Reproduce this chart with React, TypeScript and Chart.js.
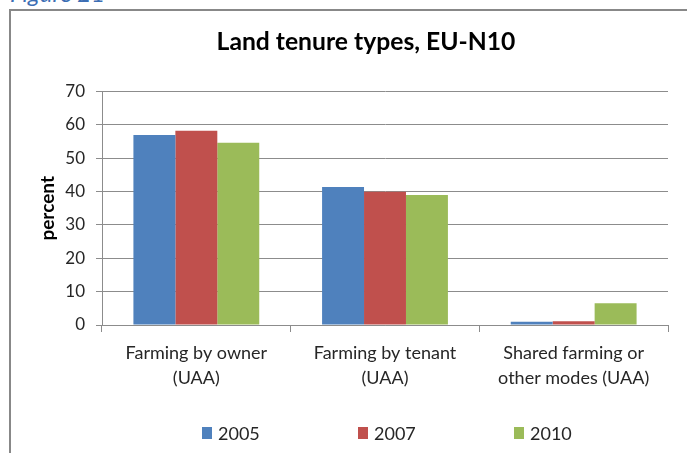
import React, { useEffect, useRef } from "react";
import { Chart, registerables } from "chart.js";

Chart.register(...registerables);

const chartTitle = "Land tenure types, EU-N10";
const figureLabel = "Figure 21";
const yAxisTitle = "percent";
const categories = [
  ["Farming by owner", "(UAA)"],
  ["Farming by tenant", "(UAA)"],
  ["Shared farming or", "other modes (UAA)"],
];
const seriesNames = ["2005", "2007", "2010"];
const values2005 = [57.0, 41.4, 1.0];
const values2007 = [58.3, 40.0, 1.1];
const values2010 = [54.7, 39.0, 6.5];
const seriesColors = ["#4F81BD", "#C0504D", "#9BBB59"];
const yMin = 0;
const yMax = 70;
const yStep = 10;

const FONT = 'Lato, "Open Sans", sans-serif';
const GRID = "#8c8c8c";
const TEXT = "#262626";

export default function App() {
  const canvasRef = useRef<HTMLCanvasElement | null>(null);

  useEffect(() => {
    const canvas = canvasRef.current;
    if (!canvas) return;
    const seriesValues = [values2005, values2007, values2010];
    const chart = new Chart(canvas, {
      type: "bar",
      data: {
        labels: categories,
        datasets: seriesNames.map((name, i) => ({
          label: name,
          data: seriesValues[i],
          backgroundColor: seriesColors[i],
          borderWidth: 0,
          categoryPercentage: 0.667,
          barPercentage: 1.0,
        })),
      },
      options: {
        responsive: false,
        animation: false,
        devicePixelRatio: 1,
        layout: { padding: 0 },
        plugins: {
          legend: { display: false },
          tooltip: { enabled: false },
          title: {
            display: true,
            text: chartTitle,
            color: "#000",
            font: { family: FONT, size: 24.7, weight: "bold" },
            padding: { top: 27, bottom: 35 },
          },
        },
        scales: {
          x: {
            type: "category",
            offset: true,
            grid: {
              display: true,
              offset: true,
              drawOnChartArea: false,
              drawTicks: true,
              tickLength: 7,
              color: GRID,
            },
            border: { display: true, color: GRID },
            ticks: {
              color: TEXT,
              font: { family: FONT, size: 18, lineHeight: 1.38 },
              padding: 9,
              maxRotation: 0,
              autoSkip: false,
            },
            afterFit: (s: any) => {
              s.height = 128;
            },
          },
          y: {
            type: "linear",
            position: "left",
            min: yMin,
            max: yMax,
            ticks: {
              stepSize: yStep,
              color: TEXT,
              padding: 11,
              font: { family: FONT, size: 17 },
            },
            grid: { color: GRID, drawTicks: true, tickLength: 6 },
            border: { display: true, color: GRID },
            title: {
              display: true,
              text: yAxisTitle,
              color: "#000",
              font: { family: FONT, size: 19, weight: "bold" },
              padding: { top: 36, bottom: 0 },
            },
            afterFit: (s: any) => {
              s.width = 102;
            },
          },
          yRight: {
            type: "linear",
            position: "right",
            display: true,
            grid: { display: false, drawTicks: false },
            border: { display: false },
            ticks: { display: false },
            afterFit: (s: any) => {
              s.width = 64;
            },
          },
        },
      },
    });
    return () => chart.destroy();
  }, []);

  return (
    <div
      style={{
        position: "fixed",
        left: 0,
        top: 0,
        width: 687,
        height: 453,
        overflow: "hidden",
        background: "#ffffff",
      }}
    >
      <span
        style={{
          position: "absolute",
          left: 10,
          top: -19,
          fontFamily: FONT,
          fontStyle: "italic",
          fontSize: 24,
          lineHeight: "24px",
          color: "#3C6EB4",
          whiteSpace: "nowrap",
        }}
      >
        {figureLabel}
      </span>
      <div
        style={{
          position: "absolute",
          left: 9,
          top: 9,
          width: 720,
          height: 500,
          borderLeft: "2px solid #888888",
          borderTop: "2px solid #888888",
        }}
      />
      <canvas
        ref={canvasRef}
        width={732}
        height={453}
        style={{ position: "absolute", left: 0, top: 0, width: 732, height: 453 }}
      />
      <div
        style={{
          position: "absolute",
          left: 202,
          top: 422,
          display: "flex",
          fontFamily: FONT,
          fontSize: 18,
          color: TEXT,
        }}
      >
        {seriesNames.map((name, i) => (
          <div
            key={name}
            style={{ width: 156, display: "flex", alignItems: "center", height: 22 }}
          >
            <span
              style={{
                display: "inline-block",
                width: 10,
                height: 12,
                background: seriesColors[i],
                marginRight: 6,
              }}
            />
            <span>{name}</span>
          </div>
        ))}
      </div>
    </div>
  );
}
